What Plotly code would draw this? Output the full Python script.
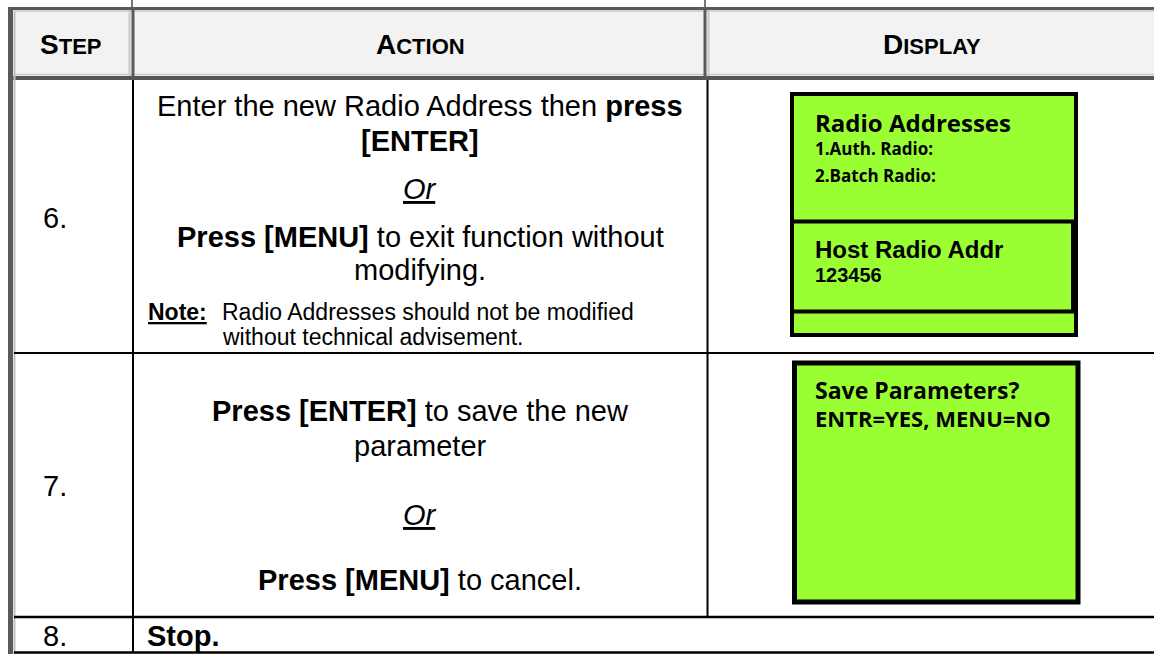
import plotly.graph_objects as go

# ---------------- data (texts) ----------------
header_first = ["S", "A", "D"]
header_rest = ["TEP", "CTION", "ISPLAY"]
step_labels = ["6.", "7.", "8."]

row6_action = [
    "Enter the new Radio Address then <b>press</b>",
    "<b>[ENTER]</b>",
    "<i><u>Or</u></i>",
    "<b>Press [MENU]</b> to exit function without",
    "modifying.",
]
note_label = "<b><u>Note:</u></b>"
note_lines = ["Radio Addresses should not be modified", "without technical advisement."]

row7_action = [
    "<b>Press [ENTER]</b> to save the new",
    "parameter",
    "<i><u>Or</u></i>",
    "<b>Press [MENU]</b> to cancel.",
]
row8_action = "<b>Stop.</b>"

display1_top = ["Radio Addresses", "1.Auth. Radio:", "2.Batch Radio:"]
display1_bottom = ["Host Radio Addr", "123456"]
display2 = ["Save Parameters?", "ENTR=YES, MENU=NO"]

# ---------------- layout constants ----------------
W, H = 1154, 654
ARIAL = "Liberation Sans, Arial, sans-serif"
GOTHIC = "Open Sans, Century Gothic, sans-serif"
GREEN = "#99FF33"

header_x = [70, 420, 932]
header_y = 44
step_x = 55
step_y = [218, 486, 636]
row6_y = [106, 141, 189, 237, 270]
note_y = [312, 337]
row7_y = [411, 446, 515, 580]

fig = go.Figure()
fig.add_trace(go.Scatter(x=[0, W], y=[0, H], mode="markers",
                         marker=dict(opacity=0), hoverinfo="skip", showlegend=False))

shapes = []


def line(x0, y0, x1, y1, color="#000000", w=2):
    shapes.append(dict(type="line", x0=x0, y0=y0, x1=x1, y1=y1,
                       xref="x", yref="y", line=dict(color=color, width=w), layer="above"))


def rect(x0, y0, x1, y1, fill, color=None, w=0):
    shapes.append(dict(type="rect", x0=x0, y0=y0, x1=x1, y1=y1, xref="x", yref="y",
                       fillcolor=fill, line=dict(color=color or fill, width=w), layer="below"))


# header background and borders
rect(14, 10, W, 77, "#F2F2F2")
line(8, 8.5, W, 8.5, "#5a5a5a", 3)
line(14, 11, W, 11, "#c8c8c8", 1.5)
line(14, 74.5, W, 74.5, "#c8c8c8", 1.5)
line(8, 78, W, 78, "#555555", 4)
line(129.5, 10, 129.5, 76, "#c8c8c8", 2)
line(133, 7, 133, 77, "#5a5a5a", 3)
line(705, 7, 705, 77, "#5a5a5a", 3)
line(708.5, 10, 708.5, 76, "#c8c8c8", 2)
line(132, 0, 132, 7, "#777777", 2)
line(705, 0, 705, 7, "#777777", 2)
# left border
line(10.5, 7, 10.5, H, "#5a5a5a", 5)
line(14.5, 11, 14.5, H, "#c0c0c0", 2)
# body grid
line(133, 80, 133, 653, "#000000", 2)
line(707.5, 80, 707.5, 617, "#000000", 2)
line(14, 353, W, 353, "#000000", 2)
line(14, 617, W, 617, "#000000", 2.5)
line(14, 652.5, W, 652.5, "#000000", 2.5)

# green display 1
shapes.append(dict(type="rect", x0=792, y0=94, x1=1076, y1=335, xref="x", yref="y",
                   fillcolor=GREEN, line=dict(color="#000000", width=4), layer="above"))
line(792, 221.5, 1076, 221.5, "#000000", 4)
line(792, 311.5, 1076, 311.5, "#000000", 4)
line(1072.5, 221, 1072.5, 312, "#000000", 3)
# green display 2
shapes.append(dict(type="rect", x0=794.5, y0=363, x1=1078, y1=602, xref="x", yref="y",
                   fillcolor=GREEN, line=dict(color="#000000", width=5), layer="above"))

ann = []


def txt(x, y, s, size, family=ARIAL, xanchor="center"):
    ann.append(dict(x=x, y=y, xref="x", yref="y", text=s, showarrow=False,
                    xanchor=xanchor, yanchor="middle",
                    font=dict(family=family, size=size, color="#000000")))


for hx, f, r in zip(header_x, header_first, header_rest):
    txt(hx, header_y, f"<b>{f}<span style='font-size:22px'>{r}</span></b>", 28)

for sy, s in zip(step_y, step_labels):
    txt(step_x, sy, s, 29)

for y, s in zip(row6_y, row6_action):
    txt(420, y, s, 29)
txt(146, note_y[0], note_label, 23, xanchor="left")
txt(220, note_y[0], note_lines[0], 23, xanchor="left")
txt(220, note_y[1], note_lines[1], 23, xanchor="left")

for y, s in zip(row7_y, row7_action):
    txt(420, y, s, 29)
txt(145, step_y[2], row8_action, 29, xanchor="left")

# display texts
txt(813, 122, f"<b>{display1_top[0]}</b>", 24, GOTHIC, "left")
txt(813, 148, f"<b>{display1_top[1]}</b>", 17, GOTHIC, "left")
txt(813, 175, f"<b>{display1_top[2]}</b>", 17, GOTHIC, "left")
txt(813, 249, f"<b>{display1_bottom[0]}</b>", 24, ARIAL, "left")
txt(813, 275, f"<b>{display1_bottom[1]}</b>", 20, ARIAL, "left")
txt(813, 390, f"<b>{display2[0]}</b>", 23, GOTHIC, "left")
txt(813, 418, f"<b>{display2[1]}</b>", 22, GOTHIC, "left")

fig.update_layout(
    width=W, height=H, margin=dict(l=0, r=0, t=0, b=0),
    paper_bgcolor="#ffffff", plot_bgcolor="#ffffff",
    xaxis=dict(range=[0, W], visible=False, fixedrange=True),
    yaxis=dict(range=[H, 0], visible=False, fixedrange=True),
    shapes=shapes, annotations=ann, showlegend=False,
)
fig.write_html("out.html", config={"displayModeBar": False},
               post_script="document.body.style.margin='0px';document.body.style.overflow='hidden';")
